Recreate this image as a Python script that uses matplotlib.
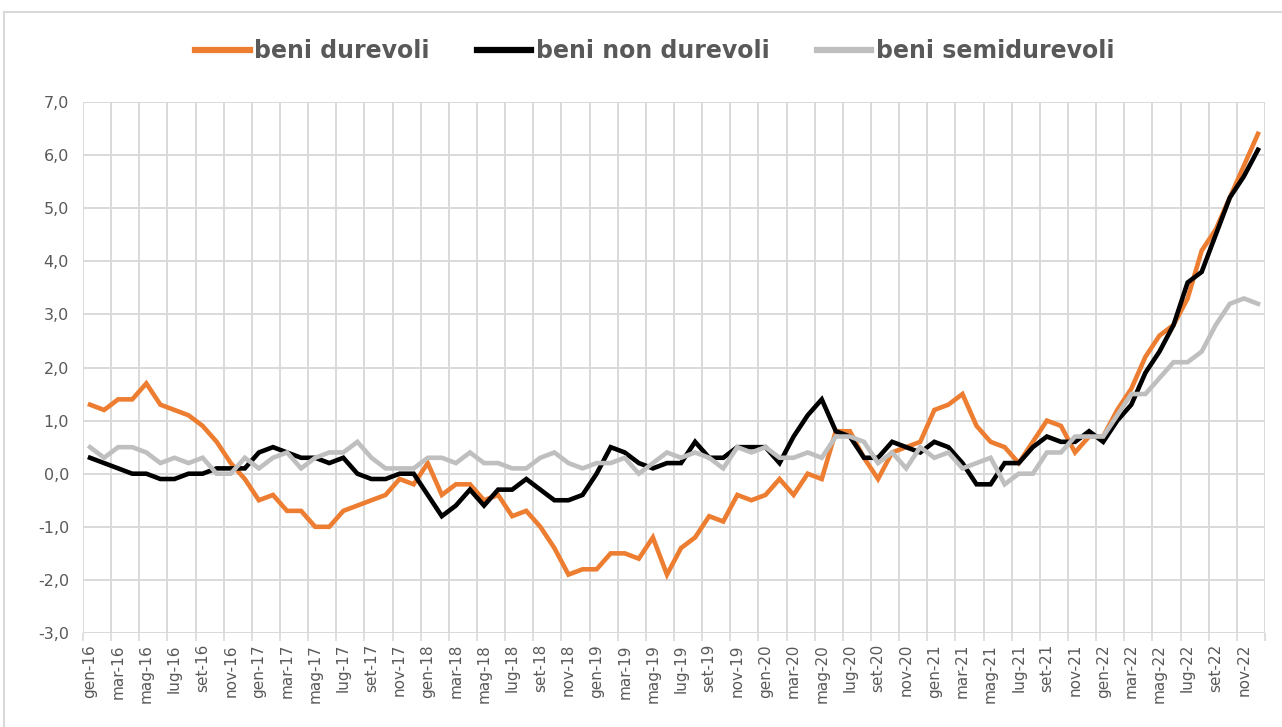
import matplotlib
matplotlib.use("Agg")
import matplotlib.pyplot as plt
from matplotlib.lines import Line2D
import numpy as np

mesi = ["gen", "feb", "mar", "apr", "mag", "giu", "lug", "ago", "set", "ott", "nov", "dic"]
anni = ["16", "17", "18", "19", "20", "21", "22"]
categorie = [f"{m}-{a}" for a in anni for m in mesi]

beni_durevoli = [
    1.3, 1.2, 1.4, 1.4, 1.7, 1.3, 1.2, 1.1, 0.9, 0.6, 0.2, -0.1,
    -0.5, -0.4, -0.7, -0.7, -1.0, -1.0, -0.7, -0.6, -0.5, -0.4, -0.1, -0.2,
    0.2, -0.4, -0.2, -0.2, -0.5, -0.4, -0.8, -0.7, -1.0, -1.4, -1.9, -1.8,
    -1.8, -1.5, -1.5, -1.6, -1.2, -1.9, -1.4, -1.2, -0.8, -0.9, -0.4, -0.5,
    -0.4, -0.1, -0.4, 0.0, -0.1, 0.8, 0.8, 0.3, -0.1, 0.4, 0.5, 0.6,
    1.2, 1.3, 1.5, 0.9, 0.6, 0.5, 0.2, 0.6, 1.0, 0.9, 0.4, 0.7,
    0.7, 1.2, 1.6, 2.2, 2.6, 2.8, 3.3, 4.2, 4.6, 5.2, 5.8, 6.4,
]
beni_non_durevoli = [
    0.3, 0.2, 0.1, 0.0, 0.0, -0.1, -0.1, 0.0, 0.0, 0.1, 0.1, 0.1,
    0.4, 0.5, 0.4, 0.3, 0.3, 0.2, 0.3, 0.0, -0.1, -0.1, 0.0, 0.0,
    -0.4, -0.8, -0.6, -0.3, -0.6, -0.3, -0.3, -0.1, -0.3, -0.5, -0.5, -0.4,
    0.0, 0.5, 0.4, 0.2, 0.1, 0.2, 0.2, 0.6, 0.3, 0.3, 0.5, 0.5,
    0.5, 0.2, 0.7, 1.1, 1.4, 0.8, 0.7, 0.3, 0.3, 0.6, 0.5, 0.4,
    0.6, 0.5, 0.2, -0.2, -0.2, 0.2, 0.2, 0.5, 0.7, 0.6, 0.6, 0.8,
    0.6, 1.0, 1.3, 1.9, 2.3, 2.8, 3.6, 3.8, 4.5, 5.2, 5.6, 6.1,
]
beni_semidurevoli = [
    0.5, 0.3, 0.5, 0.5, 0.4, 0.2, 0.3, 0.2, 0.3, 0.0, 0.0, 0.3,
    0.1, 0.3, 0.4, 0.1, 0.3, 0.4, 0.4, 0.6, 0.3, 0.1, 0.1, 0.1,
    0.3, 0.3, 0.2, 0.4, 0.2, 0.2, 0.1, 0.1, 0.3, 0.4, 0.2, 0.1,
    0.2, 0.2, 0.3, 0.0, 0.2, 0.4, 0.3, 0.4, 0.3, 0.1, 0.5, 0.4,
    0.5, 0.3, 0.3, 0.4, 0.3, 0.7, 0.7, 0.6, 0.2, 0.4, 0.1, 0.5,
    0.3, 0.4, 0.1, 0.2, 0.3, -0.2, 0.0, 0.0, 0.4, 0.4, 0.7, 0.7,
    0.7, 1.1, 1.5, 1.5, 1.8, 2.1, 2.1, 2.3, 2.8, 3.2, 3.3, 3.2,
]
serie = [
    ("beni durevoli", beni_durevoli, "#ED7D31"),
    ("beni non durevoli", beni_non_durevoli, "#000000"),
    ("beni semidurevoli", beni_semidurevoli, "#BFBFBF"),
]

W, H = 1282, 727
fig = plt.figure(figsize=(W / 100, H / 100), dpi=100)
ax = fig.add_axes([83 / W, 1 - 633 / H, (1265 - 83) / W, (633 - 102) / H])

n = len(categorie)
x = np.arange(n) + 0.5
for nome, vals, col in serie:
    ax.plot(x, vals, color=col, lw=3.3, solid_joinstyle="miter", label=nome, zorder=3)

grid_col = "#D9D9D9"
ax.set_xlim(0, n)
ax.set_ylim(-3, 7)
ax.set_yticks(np.arange(-3, 8, 1))
ax.set_yticklabels([f"{v:.1f}".replace(".", ",") for v in np.arange(-3, 8, 1)])
ax.set_xticks(x[::2])
ax.set_xticklabels(categorie[::2], rotation=90)
ax.set_xticks(np.arange(0, n + 1, 2), minor=True)
ax.tick_params(axis="x", which="major", length=0, pad=8, labelsize=11, colors="#595959")
ax.tick_params(axis="x", which="minor", length=6, width=1.2, color=grid_col)
ax.tick_params(axis="y", length=0, pad=10, labelsize=11.5, colors="#595959")
ax.grid(False)
for v in np.arange(-3, 8, 1):
    ax.axhline(v, color=grid_col, lw=1.4, zorder=1)
for v in np.arange(0, n + 1, 2):
    ax.axvline(v, color=grid_col, lw=1.4, zorder=1)
for s in ax.spines.values():
    s.set_visible(False)

handles = [Line2D([0], [0], color=c, lw=4.5) for _, _, c in serie]
leg = fig.legend(handles, [s[0] for s in serie], loc="center", bbox_to_anchor=(655 / W, 1 - 51 / H),
                 ncol=3, frameon=False, handlelength=2.3, handletextpad=0.2, columnspacing=2.0,
                 prop={"weight": "bold", "size": 17})
for t in leg.get_texts():
    t.set_color("#595959")

# outer chart border
fig.add_artist(Line2D([4 / W, 1], [1 - 12 / H, 1 - 12 / H], transform=fig.transFigure, color="#D9D9D9", lw=1.5))
fig.add_artist(Line2D([4 / W, 4 / W], [0, 1 - 12 / H], transform=fig.transFigure, color="#D9D9D9", lw=1.5))

fig.savefig("out.png", dpi=100, facecolor="white")
